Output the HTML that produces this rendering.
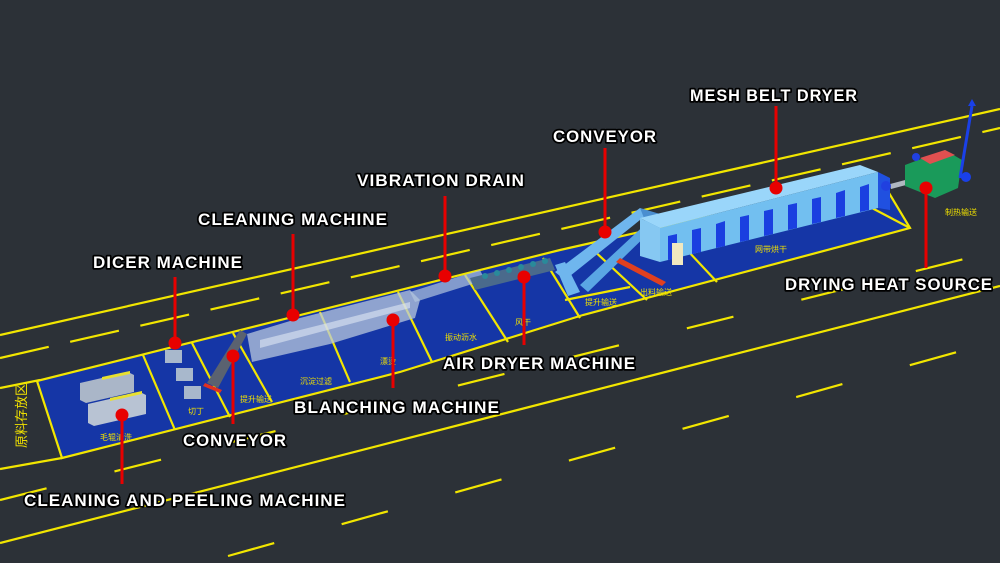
<!DOCTYPE html>
<html><head><meta charset="utf-8"><style>
html,body{margin:0;padding:0;background:#2c3137;width:1000px;height:563px;overflow:hidden;}
svg{display:block}
.lb{font-family:"Liberation Sans",sans-serif;font-size:17px;font-weight:bold;fill:#fff;stroke:#000;stroke-width:3.5;paint-order:stroke;stroke-linejoin:round;letter-spacing:1px}
.cn{font-family:"Liberation Sans","Noto Sans CJK SC",sans-serif;font-size:8px;fill:#f0e000}
</style></head><body>
<svg width="1000" height="563" viewBox="0 0 1000 563" xmlns="http://www.w3.org/2000/svg" style="overflow:hidden">
<rect width="1000" height="563" fill="#2c3137"/>
<g stroke="#f2e600" stroke-width="2.2" fill="none">
<line x1="0" y1="335" x2="1000" y2="109"/>
<line x1="0" y1="358" x2="1000" y2="128" stroke-dasharray="50 22"/>
<line x1="0" y1="500" x2="1000" y2="250" stroke-dasharray="48 70"/>
<line x1="0" y1="543" x2="1000" y2="286"/>
<line x1="228" y1="556" x2="1000" y2="340" stroke-dasharray="48 70"/>
<line x1="0" y1="388" x2="40" y2="380"/>
<line x1="0" y1="469" x2="62" y2="458"/>
</g>
<polygon points="37,381 560,250 880,178 910,228 583,315 400,372 62,458" fill="#1536a6" stroke="#f2e600" stroke-width="2.2"/>
<g stroke="#f2e600" stroke-width="2.2">
<line x1="143" y1="355" x2="175" y2="430"/>
<line x1="192" y1="343" x2="230" y2="417"/>
<line x1="233" y1="333" x2="272" y2="402"/>
<line x1="320" y1="312" x2="350" y2="382"/>
<line x1="398" y1="292" x2="432" y2="362"/>
<line x1="465" y1="275" x2="508" y2="342"/>
<line x1="543" y1="258" x2="580" y2="318"/>
<line x1="590" y1="247" x2="647" y2="300"/>
<line x1="565" y1="300" x2="630" y2="287"/>
<line x1="687" y1="250" x2="717" y2="282"/>
<line x1="870" y1="207" x2="910" y2="228"/>
</g>
<g class="cn">
<text x="100" y="440">毛辊清洗</text>
<text x="188" y="414">切丁</text>
<text x="240" y="402">提升输送</text>
<text x="300" y="384">沉淀过滤</text>
<text x="380" y="364">漂烫</text>
<text x="445" y="340">振动沥水</text>
<text x="515" y="325">风干</text>
<text x="585" y="305">提升输送</text>
<text x="640" y="295">出料输送</text>
<text x="755" y="252">网带烘干</text>
<text x="945" y="215">制热输送</text>
</g>
<text class="cn" style="font-size:13px" transform="translate(26,448) rotate(-90)">原料存放区</text>
<g>
<polygon points="80,383 128,372 134,375 134,392 86,403 80,400" fill="#aab6c8"/>
<polygon points="102,377 130,371 130,374 102,380" fill="#e8e030"/>
<polygon points="88,404 140,392 146,395 146,414 94,426 88,423" fill="#b8c3d3"/>
<polygon points="110,398 142,391 142,394 110,401" fill="#e8e030"/>
</g>
<g fill="#a8b8cc">
<rect x="165" y="350" width="17" height="13"/>
<rect x="176" y="368" width="17" height="13"/>
<rect x="184" y="386" width="17" height="13"/>
</g>
<polygon points="207,383 240,330 247,334 218,388" fill="#5a6270"/>
<polygon points="205,383 222,390 220,393 203,386" fill="#e03020"/>
<polygon points="247,334 300,318 410,290 420,300 415,318 330,344 252,362" fill="#b8c8dc" opacity="0.75"/>
<polygon points="260,340 320,325 410,302 410,308 320,332 260,348" fill="#e0e8f4" opacity="0.6"/>
<polygon points="410,292 480,270 485,280 415,302" fill="#b0c4de" opacity="0.7"/>
<polygon points="470,278 550,258 555,270 475,290" fill="#4a6a8c"/>
<g fill="#2a8a9a"><circle cx="485" cy="276" r="3"/><circle cx="497" cy="273" r="3"/><circle cx="509" cy="270" r="3"/><circle cx="521" cy="267" r="3"/><circle cx="533" cy="264" r="3"/><circle cx="545" cy="261" r="3"/></g>
<polygon points="555,272 640,208 650,212 565,280" fill="#6fb6ee"/>
<polygon points="580,285 650,220 656,226 588,292" fill="#5aa6e4"/>
<polygon points="555,265 565,262 580,292 568,296" fill="#6fb6ee"/>
<polygon points="640,208 660,214 660,232 648,228" fill="#4a8ed0"/>
<polygon points="620,258 666,282 662,286 616,262" fill="#e04020"/>
<polygon points="640,218 860,165 878,172 660,228" fill="#9ad6fa"/>
<polygon points="640,218 660,228 660,262 640,256" fill="#86c8f2"/>
<polygon points="660,228 878,172 878,208 660,262" fill="#72bff0"/>
<polygon points="878,172 890,178 890,210 878,208" fill="#2050e0"/>
<g fill="#1a3fe0">
<polygon points="668,236 677,234 677,258 668,260"/>
<polygon points="692,230 701,228 701,252 692,254"/>
<polygon points="716,224 725,221 725,246 716,248"/>
<polygon points="740,217 749,215 749,240 740,242"/>
<polygon points="764,211 773,209 773,234 764,236"/>
<polygon points="788,205 797,203 797,228 788,230"/>
<polygon points="812,199 821,197 821,222 812,224"/>
<polygon points="836,193 845,190 845,216 836,218"/>
<polygon points="860,187 869,184 869,210 860,212"/>
</g>
<rect x="672" y="243" width="11" height="22" fill="#f0e8c0"/>
<rect x="890" y="182" width="16" height="5" fill="#b0b8c0" transform="rotate(-15 898 184)"/>
<circle cx="886" cy="186" r="5" fill="#2040e0"/>
<polygon points="905,165 945,150 962,160 958,188 935,198 905,186" fill="#1a9a5a"/>
<polygon points="920,158 945,150 955,155 930,164" fill="#e05050"/>
<circle cx="916" cy="157" r="4" fill="#2040e0"/>
<line x1="960" y1="178" x2="972" y2="106" stroke="#1a40e8" stroke-width="3"/>
<polygon points="968,106 976,106 972,99" fill="#1a40e8"/>
<circle cx="966" cy="177" r="5" fill="#1a40e8"/>
<g stroke="#e80000" stroke-width="3">
<line x1="776" y1="106" x2="776" y2="188"/>
<line x1="605" y1="148" x2="605" y2="232"/>
<line x1="445" y1="196" x2="445" y2="276"/>
<line x1="293" y1="234" x2="293" y2="315"/>
<line x1="175" y1="277" x2="175" y2="343"/>
<line x1="926" y1="188" x2="926" y2="268"/>
<line x1="524" y1="277" x2="524" y2="345"/>
<line x1="393" y1="320" x2="393" y2="388"/>
<line x1="233" y1="356" x2="233" y2="424"/>
<line x1="122" y1="415" x2="122" y2="484"/>
</g>
<g fill="#e80000">
<circle cx="776" cy="188" r="6.5"/><circle cx="605" cy="232" r="6.5"/><circle cx="445" cy="276" r="6.5"/>
<circle cx="293" cy="315" r="6.5"/><circle cx="175" cy="343" r="6.5"/><circle cx="926" cy="188" r="6.5"/>
<circle cx="524" cy="277" r="6.5"/><circle cx="393" cy="320" r="6.5"/><circle cx="233" cy="356" r="6.5"/>
<circle cx="122" cy="415" r="6.5"/>
</g>
<g class="lb">
<text x="690" y="101" textLength="168" lengthAdjust="spacingAndGlyphs">MESH BELT DRYER</text>
<text x="553" y="142" textLength="104" lengthAdjust="spacingAndGlyphs">CONVEYOR</text>
<text x="357" y="186" textLength="168" lengthAdjust="spacingAndGlyphs">VIBRATION DRAIN</text>
<text x="198" y="225" textLength="190" lengthAdjust="spacingAndGlyphs">CLEANING MACHINE</text>
<text x="93" y="268" textLength="150" lengthAdjust="spacingAndGlyphs">DICER MACHINE</text>
<text x="785" y="290" textLength="208" lengthAdjust="spacingAndGlyphs">DRYING HEAT SOURCE</text>
<text x="443" y="369" textLength="193" lengthAdjust="spacingAndGlyphs">AIR DRYER MACHINE</text>
<text x="294" y="413" textLength="206" lengthAdjust="spacingAndGlyphs">BLANCHING MACHINE</text>
<text x="183" y="446" textLength="104" lengthAdjust="spacingAndGlyphs">CONVEYOR</text>
<text x="24" y="506" textLength="322" lengthAdjust="spacingAndGlyphs">CLEANING AND PEELING MACHINE</text>
</g>
</svg>
</body></html>
